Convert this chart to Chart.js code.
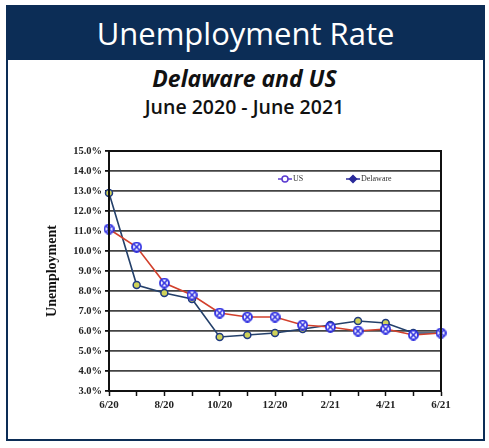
<!DOCTYPE html>
<html>
<head>
<meta charset="utf-8">
<script src="https://cdn.jsdelivr.net/npm/chart.js@4.4.1/dist/chart.umd.min.js"></script>
<style>
  html, body { margin: 0; padding: 0; background: #fff; }
  body { width: 489px; height: 448px; position: relative; overflow: hidden; font-family: "Open Sans", "Noto Sans", sans-serif; }
  #frame { position: absolute; left: 6px; top: 5px; width: 475px; height: 432px; border: 2px solid #0c2d56; }
  #header { position: absolute; left: 0; top: 0; right: 0; height: 53px; background: #0c2d56; color: #fff;
            font-size: 31px; font-weight: 500; text-align: center; line-height: 52px; }
  #sub1 { position: absolute; left: 0; right: 0; top: 62px; text-align: center; font-size: 23px; font-weight: 700; font-style: italic; color: #111; }
  #sub2 { position: absolute; left: 0; right: 0; top: 93px; text-align: center; font-size: 19.5px; font-weight: 600; color: #111; }
  #wrap { position: absolute; left: 0; top: 0; width: 489px; height: 448px; }
</style>
</head>
<body>
<div id="frame">
  <div id="header">Unemployment Rate</div>
</div>
<div id="sub1">Delaware and US</div>
<div id="sub2">June 2020 - June 2021</div>
<div id="wrap"><canvas id="chart" width="489" height="448"></canvas></div>
<script>
// data
const months = ['6/20', '7/20', '8/20', '9/20', '10/20', '11/20', '12/20', '1/21', '2/21', '3/21', '4/21', '5/21', '6/21'];
const usRate = [11.1, 10.2, 8.4, 7.8, 6.9, 6.7, 6.7, 6.3, 6.2, 6.0, 6.1, 5.8, 5.9];
const delawareRate = [12.9, 8.3, 7.9, 7.6, 5.7, 5.8, 5.9, 6.1, 6.3, 6.5, 6.4, 5.9, 5.9];

const serif = '"Liberation Serif", "DejaVu Serif", serif';

// circle with an x through it, for the US points
function crossCircle(color) {
    const c = document.createElement('canvas');
    c.width = 11; c.height = 11;
    const g = c.getContext('2d');
    g.fillStyle = '#fff';
    g.strokeStyle = color;
    g.lineWidth = 1.8;
    g.beginPath(); g.arc(5.5, 5.5, 4.5, 0, Math.PI * 2); g.fill(); g.stroke();
    g.lineWidth = 1.6;
    g.beginPath();
    g.moveTo(2.8, 2.8); g.lineTo(8.2, 8.2);
    g.moveTo(8.2, 2.8); g.lineTo(2.8, 8.2);
    g.stroke();
    return c;
}

const plotBorder = {
    id: 'plotBorder',
    afterDatasetsDraw(chart) {
        const { ctx, chartArea: a } = chart;
        ctx.save();
        ctx.strokeStyle = '#111';
        ctx.lineWidth = 2;
        ctx.strokeRect(a.left, a.top, a.right - a.left, a.bottom - a.top);
        ctx.restore();
    }
};

// small legend sitting inside the plot, like the original
const innerLegend = {
    id: 'innerLegend',
    afterDraw(chart) {
        const { ctx, chartArea: a } = chart;
        const y = a.top + 28;
        const spots = [a.left + 176, a.left + 244];
        ctx.save();
        ctx.font = '8px ' + serif;
        ctx.textBaseline = 'middle';
        chart.data.datasets.forEach((ds, i) => {
            const x = spots[i];
            ctx.strokeStyle = ds.legendColor;
            ctx.lineWidth = 1.5;
            ctx.beginPath(); ctx.moveTo(x - 7, y); ctx.lineTo(x + 7, y); ctx.stroke();
            ctx.beginPath();
            if (i === 0) {
                ctx.fillStyle = '#fff';
                ctx.arc(x, y, 3, 0, Math.PI * 2);
            } else {
                ctx.fillStyle = ds.legendColor;
                ctx.moveTo(x, y - 3.5); ctx.lineTo(x + 3.5, y); ctx.lineTo(x, y + 3.5); ctx.lineTo(x - 3.5, y); ctx.closePath();
            }
            ctx.fill(); ctx.stroke();
            ctx.fillStyle = '#333';
            ctx.fillText(ds.label, x + 8, y);
        });
        ctx.restore();
    }
};

new Chart(document.getElementById('chart'), {
    type: 'line',
    data: {
        labels: months,
        datasets: [
            {
                label: 'US',
                data: usRate,
                borderColor: '#d2402c',
                borderWidth: 1.6,
                pointStyle: crossCircle('#2a2ae0'),
                pointRadius: 5.5,
                tension: 0,
                legendColor: '#5a3ad0'
            },
            {
                label: 'Delaware',
                data: delawareRate,
                borderColor: '#24406a',
                borderWidth: 1.6,
                pointStyle: 'circle',
                pointRadius: 3.5,
                pointBorderWidth: 1.5,
                pointBorderColor: '#1f3a80',
                pointBackgroundColor: '#cfd25a',
                tension: 0,
                legendColor: '#2a2a9a'
            }
        ]
    },
    options: {
        responsive: false,
        animation: false,
        layout: { padding: { left: 44, top: 151, right: 48, bottom: 31 } },
        plugins: {
            legend: { display: false },
            tooltip: { enabled: false }
        },
        scales: {
            x: {
                offset: false,
                grid: { display: true, drawOnChartArea: false, drawTicks: true, tickLength: 5, tickColor: '#111', tickWidth: 1.5 },
                border: { display: true, color: '#111', width: 2 },
                afterFit: s => { s.height = 26; },
                ticks: {
                    autoSkip: false,
                    maxRotation: 0,
                    padding: 3,
                    color: '#222',
                    font: { family: serif, size: 11, weight: 'bold' },
                    callback: (v, i) => (i % 2 === 0 ? months[i] : '')
                }
            },
            y: {
                min: 3,
                max: 15,
                afterFit: s => { s.width = 65; },
                grid: { color: '#444', lineWidth: 1.8, tickLength: 4, tickColor: '#111' },
                border: { display: true, color: '#111', width: 2 },
                ticks: {
                    stepSize: 1,
                    padding: 3,
                    color: '#222',
                    font: { family: serif, size: 10.5, weight: 'bold' },
                    callback: v => v.toFixed(1) + '%'
                },
                title: {
                    display: true,
                    text: 'Unemployment',
                    color: '#111',
                    padding: 0,
                    font: { family: serif, size: 14, weight: 'bold' }
                }
            }
        }
    },
    plugins: [plotBorder, innerLegend]
});
</script>
</body>
</html>
